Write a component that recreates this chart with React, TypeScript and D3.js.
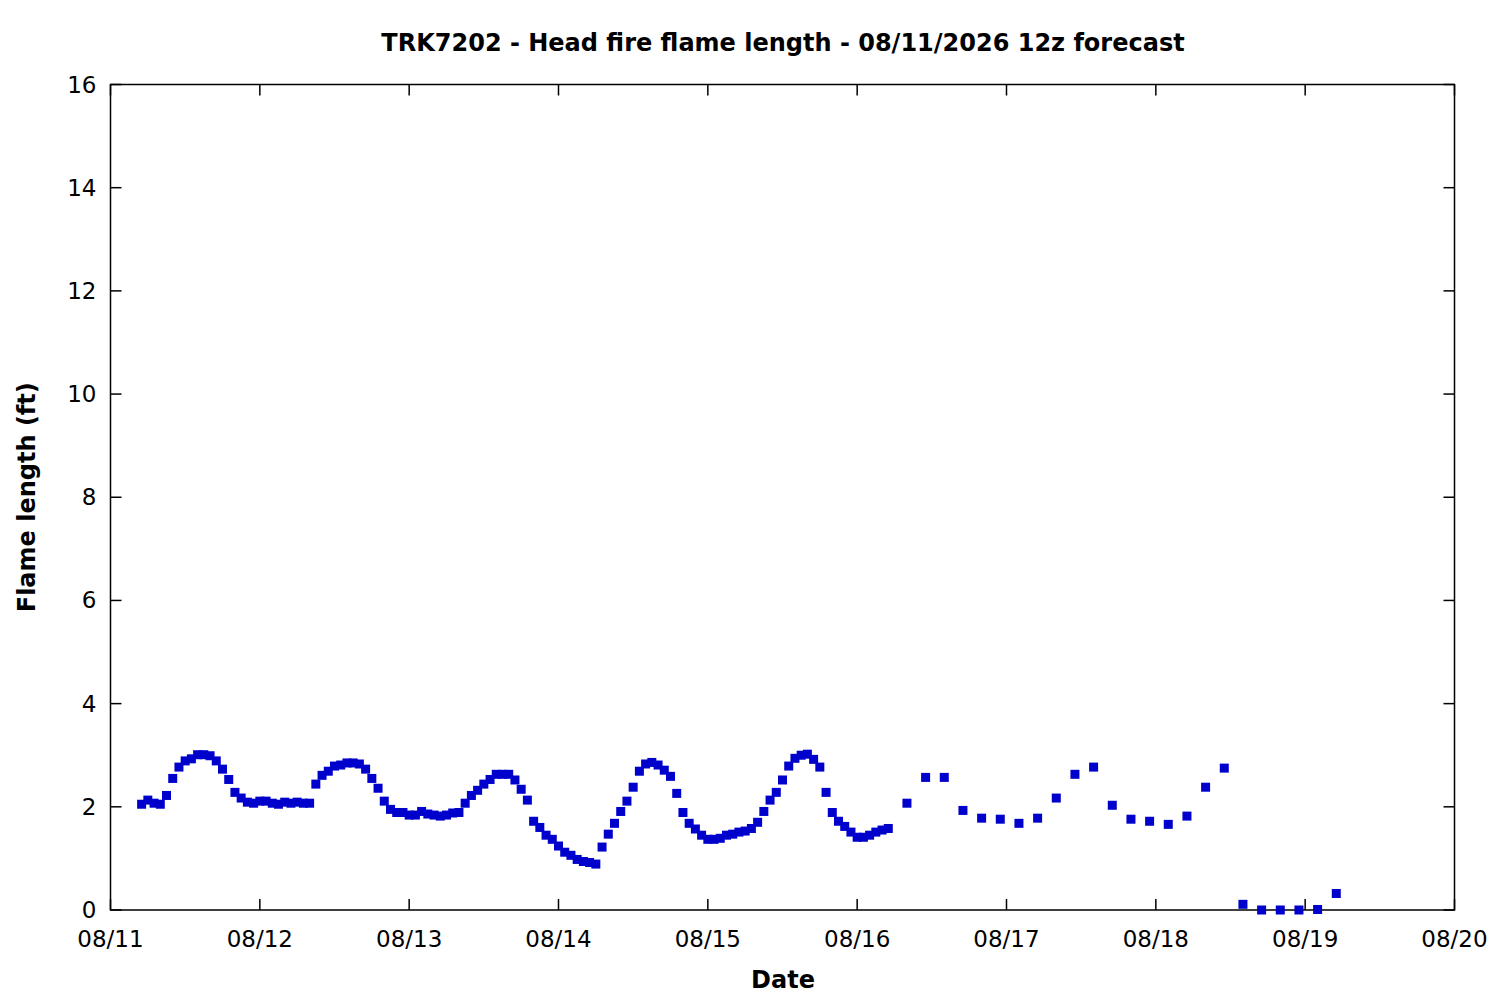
import { useMemo } from 'react'
import * as d3 from 'd3'

// hourly forecast, 08/11 05z .. 08/16 05z
const hourlyStart = Date.UTC(2026, 7, 11, 5)
const hourlyFlame = [
  2.05, 2.13, 2.07, 2.05, 2.22, 2.55, 2.77, 2.89, 2.93, 3.01,
  3.01, 2.99, 2.89, 2.73, 2.53, 2.28, 2.17, 2.09, 2.07, 2.11,
  2.11, 2.07, 2.05, 2.09, 2.07, 2.09, 2.07, 2.07, 2.44, 2.61,
  2.69, 2.79, 2.81, 2.85, 2.85, 2.83, 2.73, 2.55, 2.36, 2.11,
  1.95, 1.89, 1.89, 1.84, 1.84, 1.91, 1.86, 1.84, 1.82, 1.84,
  1.88, 1.89, 2.07, 2.22, 2.32, 2.44, 2.53, 2.63, 2.63, 2.63,
  2.52, 2.34, 2.13, 1.72, 1.60, 1.45, 1.37, 1.24, 1.12, 1.06,
  0.98, 0.94, 0.92, 0.89, 1.22, 1.47, 1.68, 1.91, 2.11, 2.38,
  2.69, 2.83, 2.86, 2.81, 2.71, 2.59, 2.26, 1.89, 1.68, 1.57,
  1.45, 1.37, 1.37, 1.39, 1.45, 1.47, 1.51, 1.53, 1.58, 1.70,
  1.91, 2.13, 2.28, 2.52, 2.79, 2.94, 3.00, 3.02, 2.92, 2.77,
  2.28, 1.89, 1.72, 1.62, 1.51, 1.41, 1.41, 1.45, 1.51, 1.55,
  1.58,
]

// 3-hourly forecast, 08/16 08z .. 08/19 05z
const threeHourlyStart = Date.UTC(2026, 7, 16, 8)
const threeHourlyFlame = [
  2.07, 2.57, 2.57, 1.93, 1.78, 1.76, 1.68, 1.78, 2.17, 2.63,
  2.77, 2.03, 1.76, 1.72, 1.66, 1.82, 2.38, 2.75, 0.11, 0,
  0, 0, 0.01, 0.32,
]

const yTicks = [0, 2, 4, 6, 8, 10, 12, 14, 16]
const xTickDays = [11, 12, 13, 14, 15, 16, 17, 18, 19, 20]

const title = 'TRK7202 - Head fire flame length - 08/11/2026 12z forecast'
const font = '"DejaVu Sans", sans-serif'
const HOUR = 3600 * 1000

export default function App() {
  const width = 1500
  const height = 1000
  const margin = { top: 84.5, right: 45.5, bottom: 90, left: 110.5 }
  const tick = 11

  const x = d3.scaleUtc()
    .domain([new Date(Date.UTC(2026, 7, 11)), new Date(Date.UTC(2026, 7, 20))])
    .range([margin.left, width - margin.right])
  const y = d3.scaleLinear().domain([0, 16]).range([height - margin.bottom, margin.top])

  const points = useMemo(() => [
    ...hourlyFlame.map((v, i) => ({ t: new Date(hourlyStart + i * HOUR), v })),
    ...threeHourlyFlame.map((v, i) => ({ t: new Date(threeHourlyStart + i * 3 * HOUR), v })),
  ], [])

  const [x0, x1] = x.range()
  const [y0, y1] = y.range()
  const sq = 9

  return (
    <div style={{ position: 'absolute', left: 0, top: 0 }}>
      <svg width={width} height={height} style={{ display: 'block', background: '#fff' }}>
        <text x={783} y={51} textAnchor="middle" fontFamily={font} fontWeight="bold" fontSize={24}>{title}</text>

        {/* y ticks, mirrored on right */}
        {yTicks.map((v) => (
          <g key={`y${v}`}>
            <line x1={x0} x2={x0 + tick} y1={y(v)} y2={y(v)} stroke="#000" strokeWidth={1.5} />
            <line x1={x1} x2={x1 - tick} y1={y(v)} y2={y(v)} stroke="#000" strokeWidth={1.5} />
            <text x={x0 - 14} y={y(v) + 8} textAnchor="end" fontFamily={font} fontSize={23}>{v}</text>
          </g>
        ))}

        {/* x ticks, mirrored on top */}
        {xTickDays.map((d) => {
          const px = x(new Date(Date.UTC(2026, 7, d)))
          return (
            <g key={`x${d}`}>
              <line x1={px} x2={px} y1={y0} y2={y0 - tick} stroke="#000" strokeWidth={1.5} />
              <line x1={px} x2={px} y1={y1} y2={y1 + tick} stroke="#000" strokeWidth={1.5} />
              <text x={px} y={y0 + 37} textAnchor="middle" fontFamily={font} fontSize={23}>{`08/${d}`}</text>
            </g>
          )
        })}

        <rect x={x0} y={y1} width={x1 - x0} height={y0 - y1} fill="none" stroke="#000" strokeWidth={1.5} />

        {points.map((p, i) => (
          <rect key={i} x={x(p.t) - sq / 2} y={y(p.v) - sq / 2} width={sq} height={sq} fill="#0000cc" />
        ))}

        <text x={783} y={988} textAnchor="middle" fontFamily={font} fontWeight="bold" fontSize={24}>Date</text>
        <text transform={`translate(35,${(y0 + y1) / 2}) rotate(-90)`} textAnchor="middle" fontFamily={font} fontWeight="bold" fontSize={24}>Flame length (ft)</text>
      </svg>
    </div>
  )
}
